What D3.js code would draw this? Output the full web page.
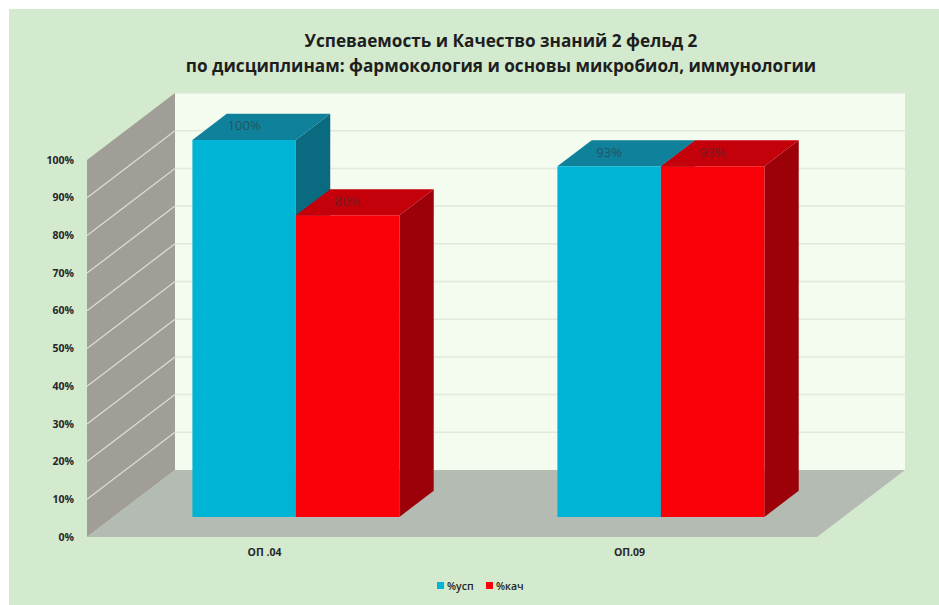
<!DOCTYPE html>
<html><head><meta charset="utf-8">
<script src="https://cdn.jsdelivr.net/npm/d3@7"></script>
<style>html,body{margin:0;padding:0;background:#fff;}svg{display:block;}</style>
</head><body>
<svg id="c" width="939" height="605"></svg>
<script>
const titleLines = ["Успеваемость и Качество знаний 2 фельд 2", "по дисциплинам: фармокология и основы микробиол, иммунологии"];
const categories = ["ОП .04", "ОП.09"];
const seriesNames = ["%усп", "%кач"];
const uspValues = [1.00, 0.93];
const kachValues = [0.80, 0.93];
const valueLabels = [["100%", "93%"], ["80%", "93%"]];
const tickValues = [0, 0.1, 0.2, 0.3, 0.4, 0.5, 0.6, 0.7, 0.8, 0.9, 1.0];

const colors = [
  {front: "#00b4d6", top: "#0f819b", side: "#0a6a80"},
  {front: "#fa0008", top: "#c4000a", side: "#9c0008"}
];
const seriesValues = [uspValues, kachValues];

const svg = d3.select("#c");
const W = 939, H = 605;
const FONT = "'Open Sans', 'Noto Sans', sans-serif";

// background
svg.append("rect").attr("x", 0).attr("y", 0).attr("width", W).attr("height", H).attr("fill", "#ffffff");
svg.append("rect").attr("x", 9).attr("y", 9).attr("width", W - 9).attr("height", H - 9).attr("fill", "#d3eacf");

// 3D geometry (oblique projection)
const DX = 88, DY = 67;
const x = d3.scaleBand().domain(categories).range([87, 817]).paddingInner(0).paddingOuter(0);
const groupW = 207;
const xs = d3.scaleBand().domain(seriesNames)
  .range([(x.bandwidth() - groupW) / 2, (x.bandwidth() + groupW) / 2]);
const y = d3.scaleLinear().domain([0, 1]).range([537, 160]);
const P = (px, val, d) => [px + d * DX, y(val) - d * DY];
const xL = x.range()[0], xR = x.range()[1];

// back wall
const bw = [P(xL, 1, 1), P(xR, 1, 1), P(xR, 0, 1), P(xL, 0, 1)];
svg.append("polygon").attr("points", bw.join(" ")).attr("fill", "#f4fbef");
svg.append("g").selectAll("line").data(tickValues.slice(1)).join("line")
  .attr("x1", P(xL, 0, 1)[0]).attr("x2", P(xR, 0, 1)[0])
  .attr("y1", d => P(xL, d, 1)[1]).attr("y2", d => P(xL, d, 1)[1])
  .attr("stroke", "#e2eadb").attr("stroke-width", 1.5);

// left wall
const lw = [P(xL, 0, 0), P(xL, 1, 0), P(xL, 1, 1), P(xL, 0, 1)];
svg.append("polygon").attr("points", lw.join(" ")).attr("fill", "#a09e97");
svg.append("g").selectAll("line").data(tickValues.slice(1, -1)).join("line")
  .attr("x1", d => P(xL, d, 0)[0]).attr("y1", d => P(xL, d, 0)[1])
  .attr("x2", d => P(xL, d, 1)[0]).attr("y2", d => P(xL, d, 1)[1])
  .attr("stroke", "#dcdcd3").attr("stroke-width", 1.3);

// floor
const fl = [P(xL, 0, 0), P(xR, 0, 0), P(xR, 0, 1), P(xL, 0, 1)];
svg.append("polygon").attr("points", fl.join(" ")).attr("fill", "#b4bbb2");

// y axis labels
svg.append("g").selectAll("text").data(tickValues).join("text")
  .attr("x", 74).attr("y", d => y(d)).attr("dy", "0.35em")
  .attr("text-anchor", "end").attr("font-family", FONT).attr("font-weight", 700)
  .attr("font-size", 10.5).attr("fill", "#262626")
  .text(d => d3.format(".0%")(d));

// bars
const dF = 0.30, dB = 0.69;
const bars = svg.append("g");
categories.forEach((cat, ci) => {
  seriesNames.forEach((s, si) => {
    const v = seriesValues[si][ci];
    const x0 = x(cat) + xs(s), x1 = x0 + xs.bandwidth();
    const c = colors[si];
    const g = bars.append("g");
    const front = [P(x0, v, dF), P(x1, v, dF), P(x1, 0, dF), P(x0, 0, dF)];
    const top = [P(x0, v, dF), P(x1, v, dF), P(x1, v, dB), P(x0, v, dB)];
    const side = [P(x1, v, dF), P(x1, v, dB), P(x1, 0, dB), P(x1, 0, dF)];
    g.append("polygon").attr("points", side.join(" ")).attr("fill", c.side);
    g.append("polygon").attr("points", top.join(" ")).attr("fill", c.top);
    g.append("polygon").attr("points", front.join(" ")).attr("fill", c.front);
    const fc = P((x0 + x1) / 2, v, dF);
    g.append("text").attr("x", fc[0]).attr("y", fc[1] - 14).attr("dy", "0.35em")
      .attr("text-anchor", "middle").attr("font-family", FONT).attr("font-size", 13)
      .attr("fill", "#333333").attr("fill-opacity", 0.6)
      .text(valueLabels[si][ci]);
  });
});

// category labels
svg.append("g").selectAll("text").data(categories).join("text")
  .attr("x", d => x(d) + x.bandwidth() / 2 - 5).attr("y", 556)
  .attr("text-anchor", "middle").attr("font-family", FONT).attr("font-weight", 700)
  .attr("font-size", 10.5).attr("fill", "#262626").text(d => d);

// title
const tg = svg.append("g");
const t1 = tg.append("text").attr("x", 501).attr("y", 47).attr("text-anchor", "middle")
  .attr("font-family", FONT).attr("font-weight", 700).attr("font-size", 17).attr("fill", "#1e1e1e").text(titleLines[0]);
const t2 = tg.append("text").attr("x", 501).attr("y", 72).attr("text-anchor", "middle")
  .attr("font-family", FONT).attr("font-weight", 700).attr("font-size", 17).attr("fill", "#1e1e1e").text(titleLines[1]);
const w2 = t2.node().getComputedTextLength();
const fs = 17 * 631 / w2;
t1.attr("font-size", fs); t2.attr("font-size", fs);

// legend
const lg = svg.append("g").attr("transform", "translate(437,586)");
const legX = [0, 49];
seriesNames.forEach((s, i) => {
  lg.append("rect").attr("x", legX[i]).attr("y", -4).attr("width", 7).attr("height", 7).attr("fill", colors[i].front);
  lg.append("text").attr("x", legX[i] + 10).attr("y", 0).attr("dy", "0.35em")
    .attr("font-family", FONT).attr("font-weight", 600).attr("font-size", 10.5).attr("fill", "#262626").text(s);
});
</script>
</body></html>
